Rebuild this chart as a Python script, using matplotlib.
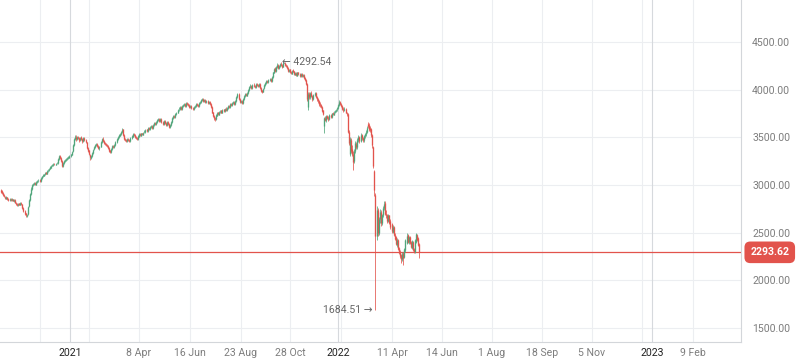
import matplotlib
matplotlib.use("Agg")
import matplotlib.pyplot as plt
import matplotlib.transforms as mtransforms

# daily candles (trading-day index on x), MOEX-like index
opens = [
    2950, 2935, 2912, 2898, 2878, 2858, 2872, 2852, 2843, 2858,
    2838, 2852, 2833, 2847, 2813, 2802, 2788, 2807, 2793, 2812,
    2798, 2762, 2728, 2702, 2678, 2700, 2775, 2845, 2905, 2958,
    2998, 3012, 3022, 3003, 3028, 3047, 3052, 3038, 3068, 3092,
    3098, 3112, 3132, 3118, 3152, 3158, 3172, 3183, 3202, 3208,
    3222, 3213, 3227, 3232, 3268, 3302, 3282, 3252, 3198, 3228,
    3248, 3262, 3268, 3287, 3288, 3302, 3318, 3352, 3418, 3478,
    3505, 3478, 3505, 3492, 3468, 3500, 3482, 3458, 3492, 3475,
    3448, 3392, 3362, 3318, 3288, 3302, 3338, 3372, 3398, 3418,
    3432, 3412, 3385, 3402, 3452, 3485, 3462, 3438, 3432, 3418,
    3412, 3392, 3362, 3348, 3378, 3412, 3398, 3418, 3452, 3478,
    3502, 3518, 3532, 3558, 3585, 3522, 3482, 3472, 3458, 3482,
    3472, 3458, 3492, 3508, 3532, 3522, 3502, 3492, 3478, 3508,
    3532, 3518, 3542, 3528, 3552, 3558, 3582, 3568, 3602, 3588,
    3608, 3622, 3598, 3628, 3652, 3638, 3662, 3678, 3692, 3668,
    3692, 3662, 3638, 3672, 3652, 3628, 3662, 3642, 3608, 3628,
    3662, 3698, 3722, 3708, 3742, 3758, 3792, 3798, 3822, 3798,
    3832, 3838, 3852, 3828, 3862, 3852, 3842, 3818, 3832, 3812,
    3798, 3822, 3828, 3852, 3842, 3828, 3862, 3868, 3888, 3902,
    3878, 3892, 3868, 3882, 3858, 3872, 3852, 3818, 3762, 3722,
    3702, 3688, 3728, 3762, 3738, 3772, 3782, 3758, 3792, 3778,
    3802, 3788, 3808, 3832, 3818, 3852, 3838, 3858, 3872, 3848,
    3882, 3918, 3952, 3902, 3868, 3882, 3858, 3898, 3928, 3952,
    3938, 3962, 3998, 4032, 4042, 4018, 4052, 4042, 4028, 4062,
    4052, 4038, 4062, 4022, 3992, 3978, 4012, 4048, 4068, 4092,
    4078, 4102, 4112, 4088, 4132, 4178, 4222, 4198, 4238, 4262,
    4228, 4252, 4272, 4258, 4242, 4282, 4262, 4248, 4232, 4198,
    4212, 4182, 4168, 4202, 4192, 4158, 4172, 4148, 4182, 4162,
    4138, 4162, 4138, 4152, 4118, 4102, 4060, 3820, 3950, 3920,
    3962, 3932, 3898, 3942, 3962, 3922, 3902, 3882, 3852, 3842,
    3822, 3782, 3620, 3702, 3678, 3722, 3702, 3688, 3732, 3708,
    3752, 3738, 3762, 3778, 3792, 3808, 3842, 3872, 3852, 3832,
    3802, 3788, 3802, 3758, 3740, 3560, 3330, 3470, 3380, 3330,
    3250, 3360, 3430, 3400, 3470, 3500, 3460, 3520, 3490, 3470,
    3510, 3530, 3560, 3640, 3630, 3600, 3590, 3520, 3400, 3150,
    2900, 2470, 2740, 2500, 2640, 2720, 2600, 2680, 2760, 2810,
    2700, 2680, 2620, 2680, 2620, 2590, 2510, 2560, 2480, 2450,
    2370, 2420, 2340, 2300, 2270, 2220, 2290, 2240, 2320, 2390,
    2480, 2400, 2450, 2400, 2340, 2400, 2330, 2300, 2400, 2480,
    2440, 2380,
]
highs = [
    2960, 2945, 2925, 2905, 2885, 2885, 2878, 2865, 2868, 2862,
    2862, 2858, 2855, 2852, 2822, 2810, 2815, 2812, 2820, 2818,
    2805, 2770, 2735, 2710, 2700, 2780, 2850, 2920, 2975, 3010,
    3025, 3032, 3028, 3040, 3055, 3062, 3060, 3080, 3098, 3112,
    3120, 3140, 3140, 3160, 3170, 3180, 3195, 3212, 3220, 3230,
    3235, 3235, 3240, 3280, 3310, 3310, 3290, 3260, 3240, 3260,
    3270, 3280, 3295, 3300, 3310, 3330, 3360, 3430, 3490, 3520,
    3520, 3515, 3515, 3500, 3505, 3510, 3490, 3500, 3500, 3485,
    3455, 3400, 3370, 3330, 3315, 3350, 3380, 3410, 3430, 3440,
    3440, 3420, 3410, 3460, 3495, 3500, 3470, 3450, 3440, 3430,
    3420, 3400, 3370, 3390, 3420, 3420, 3430, 3460, 3490, 3510,
    3530, 3545, 3570, 3600, 3590, 3530, 3490, 3480, 3490, 3490,
    3480, 3500, 3520, 3540, 3545, 3530, 3510, 3500, 3520, 3545,
    3545, 3550, 3550, 3560, 3575, 3590, 3590, 3610, 3610, 3620,
    3630, 3630, 3640, 3660, 3660, 3670, 3690, 3700, 3700, 3700,
    3700, 3670, 3680, 3680, 3660, 3670, 3670, 3650, 3640, 3670,
    3710, 3730, 3730, 3750, 3770, 3800, 3815, 3830, 3830, 3840,
    3850, 3860, 3860, 3870, 3870, 3860, 3850, 3840, 3840, 3820,
    3830, 3840, 3860, 3860, 3850, 3870, 3880, 3900, 3915, 3910,
    3900, 3900, 3890, 3890, 3880, 3880, 3860, 3825, 3770, 3730,
    3710, 3740, 3770, 3770, 3780, 3790, 3790, 3800, 3800, 3810,
    3815, 3820, 3840, 3840, 3860, 3860, 3870, 3880, 3880, 3890,
    3930, 3965, 3960, 3910, 3890, 3890, 3910, 3940, 3960, 3965,
    3970, 4010, 4040, 4055, 4050, 4060, 4065, 4050, 4070, 4070,
    4060, 4070, 4070, 4030, 4000, 4020, 4060, 4080, 4100, 4100,
    4110, 4125, 4120, 4140, 4190, 4230, 4235, 4250, 4275, 4270,
    4260, 4280, 4285, 4265, 4292.54, 4290, 4270, 4260, 4240, 4220,
    4220, 4195, 4210, 4215, 4200, 4180, 4180, 4190, 4190, 4170,
    4170, 4170, 4160, 4160, 4130, 4110, 4070, 3970, 3975, 3980,
    3990, 3945, 3950, 3975, 3970, 3935, 3910, 3890, 3870, 3850,
    3830, 3790, 3710, 3720, 3735, 3730, 3720, 3740, 3740, 3760,
    3765, 3775, 3790, 3800, 3820, 3850, 3890, 3880, 3860, 3840,
    3815, 3820, 3810, 3770, 3760, 3580, 3500, 3490, 3420, 3360,
    3380, 3460, 3450, 3490, 3520, 3510, 3540, 3530, 3500, 3520,
    3550, 3580, 3620, 3660, 3650, 3620, 3600, 3530, 3410, 3160,
    2920, 2780, 2760, 2660, 2750, 2740, 2700, 2780, 2830, 2830,
    2740, 2700, 2700, 2690, 2640, 2600, 2580, 2570, 2500, 2460,
    2440, 2430, 2350, 2320, 2280, 2300, 2300, 2340, 2430, 2500,
    2490, 2460, 2460, 2410, 2420, 2410, 2340, 2430, 2500, 2490,
    2450, 2390,
]
lows = [
    2915, 2905, 2888, 2870, 2848, 2850, 2840, 2830, 2835, 2828,
    2830, 2828, 2825, 2808, 2792, 2780, 2782, 2788, 2785, 2792,
    2752, 2720, 2690, 2660, 2662, 2690, 2765, 2835, 2895, 2950,
    2985, 3000, 2995, 2995, 3020, 3035, 3030, 3030, 3060, 3085,
    3090, 3105, 3110, 3110, 3140, 3150, 3165, 3175, 3195, 3200,
    3205, 3205, 3215, 3225, 3260, 3270, 3240, 3185, 3190, 3220,
    3240, 3250, 3260, 3275, 3280, 3295, 3310, 3345, 3410, 3470,
    3465, 3470, 3480, 3455, 3460, 3470, 3445, 3450, 3460, 3440,
    3380, 3350, 3310, 3265, 3275, 3295, 3330, 3365, 3390, 3410,
    3400, 3375, 3370, 3395, 3445, 3450, 3430, 3420, 3410, 3400,
    3380, 3350, 3335, 3340, 3370, 3390, 3390, 3410, 3445, 3470,
    3495, 3510, 3525, 3550, 3510, 3470, 3460, 3450, 3450, 3460,
    3450, 3450, 3480, 3500, 3510, 3490, 3480, 3470, 3470, 3500,
    3510, 3510, 3520, 3520, 3545, 3550, 3560, 3560, 3580, 3580,
    3600, 3590, 3590, 3620, 3630, 3630, 3655, 3670, 3660, 3660,
    3650, 3630, 3630, 3640, 3620, 3620, 3630, 3600, 3600, 3620,
    3655, 3690, 3700, 3700, 3730, 3750, 3780, 3790, 3790, 3790,
    3820, 3830, 3820, 3820, 3840, 3830, 3810, 3810, 3800, 3790,
    3790, 3810, 3820, 3830, 3820, 3820, 3850, 3860, 3880, 3870,
    3870, 3860, 3860, 3850, 3850, 3840, 3810, 3750, 3710, 3680,
    3670, 3680, 3720, 3730, 3730, 3760, 3750, 3750, 3770, 3770,
    3780, 3780, 3800, 3810, 3810, 3830, 3830, 3850, 3840, 3840,
    3875, 3910, 3890, 3860, 3860, 3845, 3850, 3890, 3920, 3930,
    3930, 3950, 3990, 4020, 4010, 4010, 4030, 4020, 4020, 4040,
    4030, 4030, 4010, 3975, 3965, 3970, 4005, 4040, 4060, 4070,
    4070, 4090, 4080, 4080, 4125, 4170, 4190, 4190, 4230, 4220,
    4220, 4240, 4250, 4230, 4235, 4250, 4240, 4220, 4190, 4190,
    4170, 4160, 4160, 4180, 4150, 4150, 4140, 4140, 4150, 4130,
    4130, 4130, 4130, 4110, 4090, 4050, 3880, 3785, 3900, 3905,
    3920, 3880, 3890, 3930, 3910, 3880, 3860, 3830, 3820, 3810,
    3770, 3730, 3545, 3670, 3665, 3690, 3670, 3680, 3700, 3700,
    3730, 3730, 3750, 3770, 3780, 3800, 3830, 3840, 3820, 3790,
    3770, 3775, 3750, 3720, 3540, 3420, 3300, 3340, 3300, 3157,
    3230, 3340, 3380, 3380, 3450, 3440, 3450, 3470, 3450, 3450,
    3490, 3510, 3540, 3600, 3570, 3560, 3500, 3390, 3180, 2880,
    1684.51, 2420, 2470, 2480, 2600, 2570, 2580, 2660, 2740, 2690,
    2650, 2600, 2610, 2590, 2540, 2500, 2500, 2470, 2420, 2370,
    2350, 2320, 2280, 2230, 2180, 2200, 2160, 2230, 2300, 2380,
    2390, 2380, 2380, 2340, 2330, 2310, 2290, 2290, 2390, 2410,
    2360, 2230,
]
closes = [
    2930, 2915, 2900, 2880, 2860, 2870, 2850, 2845, 2855, 2840,
    2850, 2835, 2845, 2815, 2800, 2790, 2805, 2795, 2810, 2800,
    2760, 2730, 2700, 2680, 2690, 2770, 2840, 2910, 2960, 3000,
    3010, 3020, 3005, 3030, 3045, 3050, 3040, 3070, 3090, 3100,
    3110, 3130, 3120, 3150, 3160, 3170, 3185, 3200, 3210, 3220,
    3215, 3225, 3230, 3270, 3300, 3280, 3250, 3200, 3230, 3250,
    3260, 3270, 3285, 3290, 3300, 3320, 3350, 3420, 3480, 3500,
    3480, 3500, 3490, 3470, 3495, 3480, 3460, 3490, 3470, 3450,
    3390, 3360, 3320, 3290, 3300, 3340, 3370, 3400, 3420, 3430,
    3410, 3390, 3400, 3450, 3480, 3460, 3440, 3430, 3420, 3410,
    3390, 3360, 3350, 3380, 3410, 3400, 3420, 3450, 3480, 3500,
    3520, 3530, 3560, 3580, 3520, 3480, 3470, 3460, 3480, 3470,
    3460, 3490, 3510, 3530, 3520, 3500, 3490, 3480, 3510, 3530,
    3520, 3540, 3530, 3550, 3560, 3580, 3570, 3600, 3590, 3610,
    3620, 3600, 3630, 3650, 3640, 3660, 3680, 3690, 3670, 3690,
    3660, 3640, 3670, 3650, 3630, 3660, 3640, 3610, 3630, 3660,
    3700, 3720, 3710, 3740, 3760, 3790, 3800, 3820, 3800, 3830,
    3840, 3850, 3830, 3860, 3850, 3840, 3820, 3830, 3810, 3800,
    3820, 3830, 3850, 3840, 3830, 3860, 3870, 3890, 3900, 3880,
    3890, 3870, 3880, 3860, 3870, 3850, 3820, 3760, 3720, 3700,
    3690, 3730, 3760, 3740, 3770, 3780, 3760, 3790, 3780, 3800,
    3790, 3810, 3830, 3820, 3850, 3840, 3860, 3870, 3850, 3880,
    3920, 3950, 3900, 3870, 3880, 3860, 3900, 3930, 3950, 3940,
    3960, 4000, 4030, 4040, 4020, 4050, 4040, 4030, 4060, 4050,
    4040, 4060, 4020, 3990, 3980, 4010, 4050, 4070, 4090, 4080,
    4100, 4110, 4090, 4130, 4180, 4220, 4200, 4240, 4260, 4230,
    4250, 4270, 4260, 4240, 4280, 4260, 4250, 4230, 4200, 4210,
    4180, 4170, 4200, 4190, 4160, 4170, 4150, 4180, 4160, 4140,
    4160, 4140, 4150, 4120, 4100, 4060, 3900, 3950, 3920, 3960,
    3930, 3900, 3940, 3960, 3920, 3900, 3880, 3850, 3840, 3820,
    3780, 3740, 3700, 3680, 3720, 3700, 3690, 3730, 3710, 3750,
    3740, 3760, 3780, 3790, 3810, 3840, 3870, 3850, 3830, 3800,
    3790, 3800, 3760, 3740, 3560, 3440, 3480, 3360, 3320, 3240,
    3360, 3440, 3400, 3470, 3500, 3460, 3520, 3490, 3470, 3510,
    3530, 3560, 3600, 3620, 3590, 3580, 3520, 3420, 3200, 2950,
    2470, 2740, 2500, 2640, 2720, 2600, 2680, 2760, 2800, 2700,
    2680, 2620, 2680, 2600, 2560, 2520, 2560, 2480, 2430, 2380,
    2420, 2330, 2290, 2250, 2220, 2280, 2230, 2330, 2420, 2470,
    2400, 2450, 2390, 2350, 2410, 2320, 2300, 2420, 2490, 2420,
    2370, 2293.62,
]

# x ticks, in trading-day index units
tick_pos = [36.4, 64.5, 82.2, 129.0, 176.6, 224.3, 270.1, 315.0, 317.8,
            365.4, 412.1, 458.9, 505.6, 552.3, 599.1, 608.4, 646.7]
tick_labels = ["", "2021", "", "8 Apr", "16 Jun", "23 Aug", "28 Oct", "2022", "",
               "11 Apr", "14 Jun", "1 Aug", "18 Sep", "5 Nov", "", "2023", "9 Feb"]
year_labels = ["2021", "2022", "2023"]

y_ticks = [1500, 2000, 2500, 3000, 3500, 4000, 4500]
last_price = closes[-1]
peak_idx, peak_val = 264, 4292.54
low_idx, low_val = 350, 1684.51

up_color = "#4fa57b"
down_color = "#e2534c"

plt.rcParams["font.family"] = ["Roboto", "DejaVu Sans"]

fig = plt.figure(figsize=(7.98, 3.63), dpi=100)
ax = fig.add_axes([0, 1 - 342 / 363, 741 / 798, 342 / 363])

xs = list(range(len(closes)))
colors = [up_color if c >= o else down_color for o, c in zip(opens, closes)]
body_lo = [min(o, c) for o, c in zip(opens, closes)]
body_hi = [max(o, c) if abs(c - o) > 6 else min(o, c) + 6 for o, c in zip(opens, closes)]

# wicks, then bodies
ax.vlines(xs, lows, highs, colors=colors, linewidth=0.55, zorder=3)
ax.vlines(xs, body_lo, body_hi, colors=colors, linewidth=0.95, zorder=4)

# last price line
ax.axhline(last_price, color=down_color, linewidth=0.9, zorder=2)

ax.set_xlim(-0.93, 691.6)
ax.set_ylim(1353, 4940)

# grid
for v in y_ticks:
    ax.axhline(v, color="#eceef1", linewidth=0.8, zorder=0)
for p, lab in zip(tick_pos, tick_labels):
    gc = "#d6d9dd" if lab in year_labels else "#eceef1"
    ax.axvline(p, color=gc, linewidth=0.8, zorder=0)

ax.set_xticks(tick_pos)
ax.set_xticklabels(tick_labels)
for t in ax.get_xticklabels():
    t.set_color("#222222" if t.get_text() in year_labels else "#7d7d7d")
ax.tick_params(axis="x", length=0, pad=4, labelsize=7.6)

ax.yaxis.tick_right()
ax.set_yticks(y_ticks)
ax.set_yticklabels([f"{v:.2f}" for v in y_ticks])
ax.tick_params(axis="y", length=0, pad=8, labelsize=7.6, labelcolor="#7d7d7d")

for s in ["top", "left"]:
    ax.spines[s].set_visible(False)
for s in ["bottom", "right"]:
    ax.spines[s].set_color("#d3d6da")
    ax.spines[s].set_linewidth(0.8)

# high / low markers
ax.annotate(f"\u2190 {peak_val:.2f}", xy=(peak_idx, peak_val), xytext=(-1, 0),
            textcoords="offset points", ha="left", va="center",
            fontsize=7.6, color="#666666", zorder=5)
ax.annotate(f"{low_val:.2f} \u2192", xy=(low_idx, low_val), xytext=(-2, 0),
            textcoords="offset points", ha="right", va="center",
            fontsize=7.6, color="#666666", zorder=5)

# last price label on the right axis
trans = mtransforms.blended_transform_factory(ax.transAxes, ax.transData)
ax.text(1.0125, last_price, f"{last_price:.2f}", transform=trans,
        ha="left", va="center", fontsize=7.6, color="white", fontweight="bold",
        bbox=dict(boxstyle="round,pad=0.55", facecolor=down_color, edgecolor="none"),
        clip_on=False, zorder=6)

fig.savefig("out.png", dpi=100)
